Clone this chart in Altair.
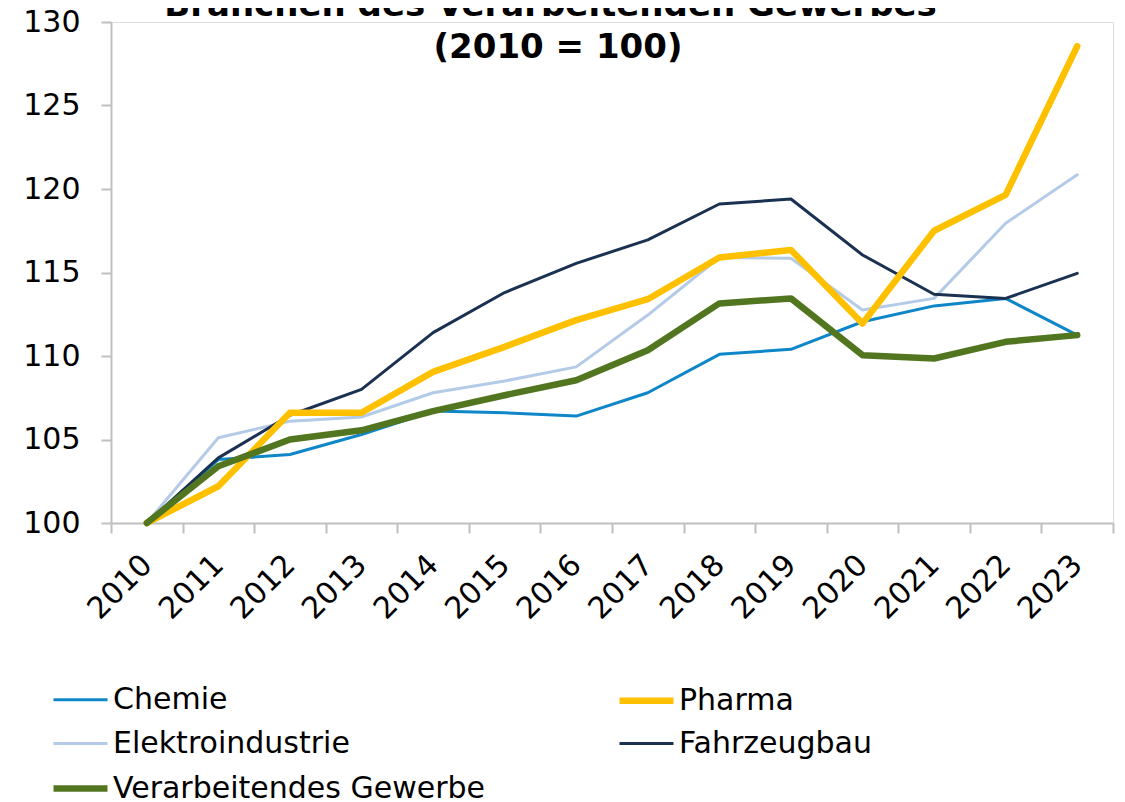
import altair as alt
import pandas as pd

YEARS = [str(y) for y in range(2010, 2024)]
CHEMIE = [100, 103.8, 104.1, 105.3, 106.7, 106.6, 106.4, 107.8, 110.1, 110.4, 112.05, 113.0, 113.45, 111.25]
PHARMA = [100, 102.2, 106.6, 106.6, 109.05, 110.55, 112.15, 113.4, 115.9, 116.35, 111.95, 117.5, 119.65, 128.55]
ELEKTRO = [100, 105.1, 106.1, 106.35, 107.8, 108.5, 109.35, 112.45, 115.9, 115.85, 112.75, 113.45, 117.95, 120.85]
FAHRZEUG = [100, 103.9, 106.45, 108.0, 111.4, 113.8, 115.55, 116.95, 119.1, 119.4, 116.05, 113.7, 113.45, 114.95]
VERARB = [100, 103.4, 105.0, 105.55, 106.7, 107.65, 108.55, 110.35, 113.15, 113.45, 110.05, 109.85, 110.85, 111.25]

# legend order (filled column by column: left column first, then right column)
SERIES = ["Chemie", "Elektroindustrie", "Verarbeitendes Gewerbe", "Pharma", "Fahrzeugbau"]
COLORS = ["#0E86C8", "#B4CBE8", "#52761F", "#FFC000", "#1B3152"]
WIDTHS = [3, 3, 6.5, 6.5, 3]
TITLE_LINES = ["Branchen des Verarbeitenden Gewerbes\u00b9", "(2010 = 100)"]

draw_order = [("Chemie", CHEMIE), ("Elektroindustrie", ELEKTRO), ("Fahrzeugbau", FAHRZEUG),
              ("Pharma", PHARMA), ("Verarbeitendes Gewerbe", VERARB)]
rows = []
for name, vals in draw_order:
    for y, v in zip(YEARS, vals):
        rows.append({"Jahr": y, "Wert": v, "Reihe": name})
df = pd.DataFrame(rows)

FONT = "DejaVu Sans"
GREY = "#BFBFBF"

legend_kw = dict(title=None, orient="none", legendX=-49, legendY=660,
                 columns=2, symbolType="M-1.8,0H1.8", symbolSize=900,
                 labelFontSize=30, labelFont=FONT, labelColor="#000000",
                 labelOffset=14, rowPadding=11, columnPadding=121, labelLimit=500)

lines = alt.Chart(df).mark_line(strokeJoin="round", strokeCap="round").encode(
    x=alt.X("Jahr:O", sort=YEARS, bandPosition=0.5,
            scale=alt.Scale(type="band", paddingInner=0, paddingOuter=0),
            axis=alt.Axis(title=None, labelAngle=-45, labelAlign="right", labelBaseline="middle",
                          labelFontSize=30, labelFont=FONT, labelColor="#000000", labelPadding=27,
                          tickBand="extent", tickSize=10, tickColor=GREY, tickWidth=2,
                          domainColor=GREY, domainWidth=2, grid=False)),
    y=alt.Y("Wert:Q", scale=alt.Scale(domain=[100, 130], nice=False, zero=False),
            axis=alt.Axis(title=None, values=[100, 105, 110, 115, 120, 125, 130],
                          labelFontSize=30, labelFont=FONT, labelColor="#000000", labelPadding=21,
                          tickSize=10, tickColor=GREY, tickWidth=2,
                          domainColor=GREY, domainWidth=2, grid=False)),
    color=alt.Color("Reihe:N", sort=SERIES,
                    scale=alt.Scale(domain=SERIES, range=COLORS),
                    legend=alt.Legend(**legend_kw)),
    strokeWidth=alt.StrokeWidth("Reihe:N", sort=SERIES,
                                scale=alt.Scale(type="ordinal", domain=SERIES, range=WIDTHS),
                                legend=alt.Legend(**legend_kw)),
)

title = alt.Chart(alt.Data(values=[{"k": 0}])).mark_text(
    text=TITLE_LINES, font=FONT, fontSize=34, fontWeight="bold", color="#000000",
    align="center", baseline="alphabetic", lineHeight=42,
).encode(x=alt.value(447), y=alt.value(-6))

chart = alt.layer(lines, title).properties(
    width=1002, height=501,
    autosize=alt.AutoSizeParams(type="none"),
    padding={"left": 103, "top": 14, "right": 4, "bottom": 277},
).configure_view(stroke=None).configure(background="#FFFFFF")

chart.save("out.html", embed_options={"renderer": "svg", "actions": False})
